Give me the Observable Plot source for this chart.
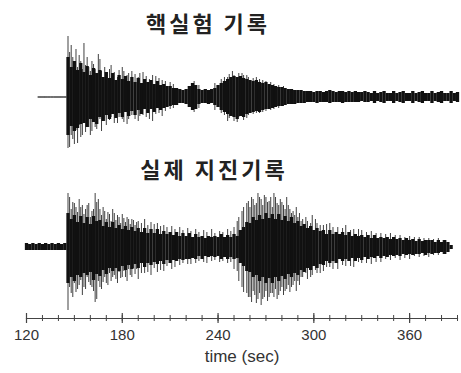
<!DOCTYPE html>
<html>
<head>
<meta charset="utf-8">
<script src="https://cdn.jsdelivr.net/npm/d3@7"></script>
<script src="https://cdn.jsdelivr.net/npm/@observablehq/plot@0.6"></script>
<style>
  html, body { margin: 0; padding: 0; background: #fff; }
  #chart { width: 461px; height: 373px; overflow: hidden; }
  #chart svg { display: block; }
</style>
</head>
<body>
<div id="chart"></div>
<script>
// ---- data (amplitudes in trace units) ----
const titleTop = "핵실험 기록";
const titleBottom = "실제 지진기록";
const axisLabel = "time (sec)";
const xDomain = [120, 390];
const majorTicks = [120, 180, 240, 300, 360];
const minorTicks = d3.range(120, 391, 10);

// nuclear test record: envelope every 2 s starting at 128 s
const nucStart = 128;
const nucHi = [
  0.6,0.6,0.6,0.6,0.6,0.6,0.6,0.6,0.6,
  40,30,36,27,34,25,31,22,29,24,27,20,25,19,24,17,22,18,21,16,20,15,19,14,18,15,17,13,16,12,13,11,11,9,9,
  8,7,8,11,14,12,8,7,8,7,8,9,12,14,16,18,20,21,20,21,19,18,17,16,17,15,14,15,13,12,11,10,10,9,8,8,7,7,7,6,6,
  6,5,6,6,5,6,7,6,5,6,6,5,6,5,6,5,5,6,5,
  4,6,4,5,6,4,4,6,4,5,6,4,4,6,4,5,6,4,4,6,4,5,6,4,4,6,4,5
];
const nucLo = [
  0.6,0.6,0.6,0.6,0.6,0.6,0.6,0.6,0.6,
  38,29,34,31,27,26,30,22,25,27,20,24,18,22,17,21,16,20,15,19,14,18,13,17,12,16,12,15,11,13,11,10,9,8,8,
  6,6,7,10,13,12,7,6,6,7,6,8,10,13,15,17,19,20,22,19,20,17,16,15,14,15,13,12,12,11,10,9,9,8,7,7,7,6,6,6,5,
  5,5,6,5,5,5,6,5,5,5,6,5,5,5,5,5,4,5,5,
  4,6,4,5,6,4,4,6,4,5,6,4,4,6,4,5,6,4,4,6,4,5,6,4,4,6,4,5
];
// individual spikes: time, up, down
const nucSpikeT  = [146,147,149,151,152,154,156,157,159,161,163,165,167,169,172,175,178,181,184,188,191,195,199,203,207,212,225,244,247,250,253,256,259,262,266,270,275,281,
  148,150,153,155,158,160,162,164,166,170,173,177,180,183,186,190,193,197,201,205,210,228,238,242,246,249,252,255,258,264,268,273,278];
const nucSpikeUp = [61,45,40,48,30,36,54,32,30,36,28,43,26,30,28,25,27,26,24,23,24,21,22,19,16,13,16,20,23,22,24,22,20,19,18,16,13,11,
  52,35,42,28,40,26,33,24,38,22,32,20,30,22,26,20,25,18,21,17,15,12,14,18,20,26,19,24,22,20,17,15,12];
const nucSpikeDn = [51,50,42,33,46,40,26,35,30,34,30,20,34,24,23,26,20,25,22,22,19,20,24,16,14,11,15,18,21,24,20,23,18,17,16,14,12,9,
  38,47,28,38,26,38,24,32,22,28,20,26,22,27,18,24,18,22,17,19,12,11,13,16,24,19,25,18,21,16,15,13,11];

// real earthquake record: envelope every 2 s starting at 120 s
const eqStart = 120;
const eqHi = [
  4,3,4,3,4,3,4,3,4,3,4,3,4,
  34,28,32,25,31,24,30,23,31,26,
  27,21,25,20,25,19,22,18,21,17,
  20,16,19,15,19,14,18,14,18,13,
  16,13,15,12,15,11,14,11,14,10,
  13,10,11,9,11,10,11,10,13,10,
  12,10,13,11,17,20,25,24,30,27,
  32,28,34,29,33,28,33,27,31,26,
  30,24,26,21,23,19,21,17,19,16,
  17,13,17,13,15,13,15,12,15,11,
  13,11,12,10,12,9,12,9,10,9,
  10,8,10,8,9,7,9,7,8,6,
  8,6,7,7,7,5,7,5,7,5,2
];
const eqLo = [
  3,3,3,3,3,3,3,3,3,3,3,3,3,
  36,30,34,28,30,26,28,25,33,27,
  29,23,27,21,24,21,24,19,23,18,
  22,17,21,16,20,16,18,15,17,14,
  17,13,16,13,14,12,13,12,12,11,
  12,9,12,9,10,9,10,9,12,10,
  12,10,12,11,16,19,24,25,30,28,
  34,30,36,31,36,30,34,29,32,27,
  30,26,28,23,25,21,23,19,21,17,
  18,14,16,14,16,12,14,12,14,11,
  14,11,13,10,12,10,11,9,11,9,
  10,8,9,8,9,7,8,7,8,7,
  7,6,8,6,7,6,6,5,7,5,2
];
const eqSpikeT  = [146,147,149,151,153,155,157,159,161,163,164,166,168,171,174,177,180,183,186,190,194,198,202,206,211,216,221,226,231,236,241,246,250,253,256,259,261,263,265,267,269,271,273,275,277,279,281,283,285,287,290,293,296,299,302,306,310,315,320,325,330,336,342,348,354,360,366,372,378,
  148,150,152,154,156,158,160,162,165,167,169,170,172,173,175,176,178,179,181,182,184,185,187,188,189,192,196,200,204,208,213,218,223,228,233,238,243,248,252,255,258,260,262,264,266,268,270,272,274,276,278,280,282,284,286,288,292,295,298,301,304,308,312,318,323,328,333,339,345,351,357,363,369,375,381,289,291];
const eqSpikeUp = [54,50,45,40,48,42,38,44,36,54,45,38,40,35,38,32,33,30,28,26,28,25,24,22,21,20,19,18,17,18,16,18,20,30,40,46,50,42,54,48,52,45,50,54,44,48,42,50,38,36,30,28,26,32,24,22,24,20,22,18,17,16,14,14,12,11,10,9,9,
  38,44,35,40,33,42,30,38,48,32,36,28,33,26,34,27,30,24,29,25,28,23,27,22,25,24,22,23,21,20,18,17,16,15,15,14,15,16,26,36,44,40,48,44,50,42,50,46,40,50,42,45,38,42,34,32,26,30,24,28,22,23,20,19,17,18,15,14,13,12,10,10,9,8,7,40,34];
const eqSpikeDn = [63,40,50,45,38,48,42,35,40,55,52,40,35,38,30,36,30,34,30,32,26,28,25,24,22,18,17,16,15,14,15,16,22,34,45,50,55,48,52,58,50,54,46,50,52,44,48,42,45,38,34,30,32,28,26,24,20,22,19,20,16,17,15,13,13,12,10,10,8,
  46,36,42,33,40,30,38,44,34,42,30,36,26,34,28,32,25,31,24,30,22,28,21,27,22,26,25,21,23,19,20,16,17,14,16,13,14,15,24,40,46,50,44,56,46,52,44,50,46,42,48,40,44,38,40,34,30,26,30,23,26,20,22,18,19,15,16,15,12,11,11,9,9,8,7,44,38];

// ---- tables ----
const env = (start, hi, lo) => hi.map((h, i) => ({t: start + 2 * i, hi: h, lo: -lo[i]}));
const spikes = (ts, up, dn) => ts.map((t, i) => ({t, hi: up[i], lo: -dn[i]}));

const ink = "#111";
const fontLatin = "'Liberation Sans', Arial, sans-serif";
const fontKR = "'Noto Sans CJK KR', 'Noto Sans', sans-serif";

function trace(envData, spikeData) {
  return [
    Plot.ruleX(envData, {x: "t", y1: "lo", y2: "hi", stroke: ink, strokeWidth: 3.3}),
    Plot.ruleX(spikeData, {x: "t", y1: "lo", y2: "hi", stroke: ink, strokeWidth: 1, strokeOpacity: 0.8})
  ];
}

const topPlot = Plot.plot({
  width: 461, height: 152,
  marginLeft: 26, marginRight: 4, marginTop: 35, marginBottom: 2,
  x: {domain: xDomain, axis: null},
  y: {domain: [-53, 62], axis: null},
  style: {fontFamily: fontKR, background: "#fff"},
  marks: [
    ...trace(env(nucStart, nucHi, nucLo), spikes(nucSpikeT, nucSpikeUp, nucSpikeDn)),
    Plot.text([titleTop], {text: d => d, frameAnchor: "top", lineAnchor: "middle", dy: -11, dx: -34,
      fontSize: 22, fontWeight: "bold", fill: "#222", fontFamily: fontKR})
  ]
});

const bottomPlot = Plot.plot({
  width: 461, height: 221,
  marginLeft: 26, marginRight: 4, marginTop: 41, marginBottom: 55,
  x: {domain: xDomain, axis: null},
  y: {domain: [-71, 54], axis: null},
  style: {fontFamily: fontLatin, background: "#fff"},
  marks: [
    ...trace(env(eqStart, eqHi, eqLo), spikes(eqSpikeT, eqSpikeUp, eqSpikeDn)),
    Plot.text([titleBottom], {text: d => d, frameAnchor: "top", lineAnchor: "middle", dy: -23, dx: -28,
      fontSize: 22, fontWeight: "bold", fill: "#222", fontFamily: fontKR}),
    Plot.frame({anchor: "bottom", stroke: "#444", strokeWidth: 1.2}),
    Plot.ruleX(minorTicks, {x: d => d, insetTop: 122, insetBottom: -3, stroke: "#444", strokeWidth: 1}),
    Plot.ruleX(majorTicks, {x: d => d, insetTop: 120, insetBottom: -5, stroke: "#444", strokeWidth: 1.2}),
    Plot.axisX({ticks: majorTicks, tickSize: 0, tickPadding: 11, fontSize: 15, fill: "#333", label: null, fontFamily: fontLatin}),
    Plot.text([axisLabel], {text: d => d, frameAnchor: "bottom", lineAnchor: "middle", dy: 38,
      fontSize: 17, fill: "#333", fontFamily: fontLatin})
  ]
});

const chart = document.getElementById("chart");
chart.appendChild(topPlot);
chart.appendChild(bottomPlot);
// letter spacing for Korean titles
chart.querySelectorAll("text").forEach(t => {
  if (/[가-힣]/.test(t.textContent)) t.setAttribute("letter-spacing", "3");
});
</script>
</body>
</html>
